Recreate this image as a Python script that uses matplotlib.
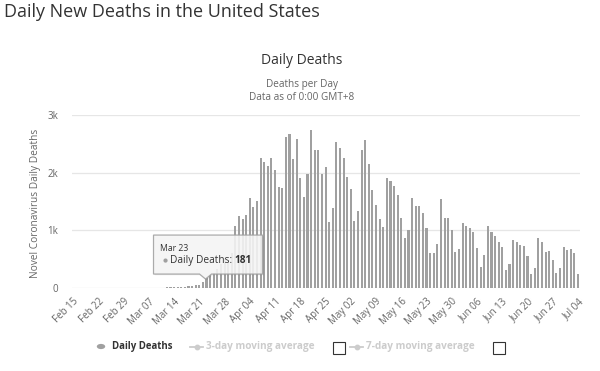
import matplotlib
matplotlib.use('Agg')
import matplotlib.pyplot as plt
import numpy as np
import pandas as pd
from matplotlib.patches import Polygon, Rectangle, Circle
from matplotlib.lines import Line2D
from matplotlib.transforms import IdentityTransform

plt.rcParams['font.family'] = ['Open Sans', 'DejaVu Sans']

# ---------------- data ----------------
start_date = '2020-02-15'
deaths_feb = [0, 0, 0, 0, 0, 0, 0, 0, 0, 0, 0, 0, 0, 0, 1]
deaths_mar = [1, 4, 1, 4, 1, 2, 3, 4, 4, 6, 8, 11, 12, 10, 12, 23, 26, 35, 40, 50,
              60, 110, 181, 230, 260, 330, 410, 520, 450, 600, 1080]
deaths_apr = [1240, 1190, 1260, 1560, 1400, 1510, 2250, 2190, 2120, 2260, 2050, 1750,
              1730, 2610, 2675, 2235, 2580, 1900, 1575, 1975, 2733, 2390, 2390, 1975,
              2100, 1150, 1390, 2525, 2420, 2250]
deaths_may = [1930, 1710, 1160, 1330, 2390, 2565, 2150, 1700, 1440, 1200, 1050, 1905,
              1850, 1770, 1615, 1220, 875, 1000, 1560, 1420, 1420, 1300, 1040, 600,
              610, 770, 1545, 1220, 1220, 1010, 630]
deaths_jun = [670, 1120, 1080, 1040, 970, 700, 360, 570, 1080, 970, 900, 790, 710, 320,
              420, 830, 800, 740, 720, 560, 240, 350, 860, 800, 630, 640, 490, 260, 350, 710]
deaths_jul = [660, 670, 600, 240]
daily_deaths = deaths_feb + deaths_mar + deaths_apr + deaths_may + deaths_jun + deaths_jul

y_ticks = [0, 1000, 2000, 3000]
y_tick_labels = ['0', '1k', '2k', '3k']
tooltip_date = 'Mar 23'

dates = pd.date_range(start_date, periods=len(daily_deaths), freq='D')
date_labels = [d.strftime('%b %d') for d in dates]
x = np.arange(len(daily_deaths))
x_tick_pos = x[::7]
x_tick_labels = date_labels[::7]

# ---------------- figure ----------------
W, H = 600, 371
fig = plt.figure(figsize=(W / 100, H / 100), dpi=100)
fig.patch.set_facecolor('white')


def box(x0, y0, x1, y1):
    return [x0 / W, 1 - y1 / H, (x1 - x0) / W, (y1 - y0) / H]


def fx(px):
    return px / W


def fy(py):
    return 1 - py / H


ax = fig.add_axes(box(72, 115, 580, 288))
ax.bar(x, daily_deaths, width=0.58, color='#a0a0a0', linewidth=0, zorder=2)
ax.set_xlim(-0.3, len(daily_deaths) - 0.45)
ax.set_ylim(0, 3000)
ax.set_yticks(y_ticks)
ax.set_yticklabels(y_tick_labels)
ax.yaxis.grid(True, color='#e6e6e6', linewidth=0.9)
ax.set_axisbelow(True)
for s in ax.spines.values():
    s.set_visible(False)
ax.set_xticks(x_tick_pos)
ax.set_xticklabels(x_tick_labels, rotation=45, ha='right', rotation_mode='anchor')
ax.tick_params(axis='x', length=0, pad=6, labelsize=7, labelcolor='#666666')
ax.tick_params(axis='y', length=0, pad=10, labelsize=7, labelcolor='#666666')

# titles
fig.text(fx(4), fy(12), 'Daily New Deaths in the United States', fontsize=13,
         color='#333333', ha='left', va='center')
fig.text(fx(302), fy(60), 'Daily Deaths', fontsize=10, color='#333333',
         ha='center', va='center')
fig.text(fx(302), fy(84), 'Deaths per Day', fontsize=7.2, color='#666666',
         ha='center', va='center')
fig.text(fx(302), fy(97.5), 'Data as of 0:00 GMT+8', fontsize=7.2, color='#666666',
         ha='center', va='center')
fig.text(fx(35.5), fy(203), 'Novel Coronavirus Daily Deaths', fontsize=7.3,
         color='#666666', rotation=90, ha='center', va='center')

# ---------------- tooltip ----------------
t_idx = date_labels.index(tooltip_date)
t_val = daily_deaths[t_idx]
ax_px, ay_px = ax.transData.transform((t_idx, t_val))  # display px, origin bottom-left
tr = IdentityTransform()
bl, br = ax_px - 53, ax_px + 56
bb, bt = ay_px + 3.5, ay_px + 42.5
pts = [(bl, bt), (br, bt), (br, bb), (ax_px + 5, bb), (ax_px - 1, ay_px - 1.5),
       (ax_px - 7, bb), (bl, bb)]
shadow = Polygon([(p[0] + 1.2, p[1] - 1.2) for p in pts], closed=True, transform=tr,
                 facecolor='#000000', alpha=0.08, edgecolor='none', zorder=9)
fig.patches.append(shadow)
tip = Polygon(pts, closed=True, transform=tr, facecolor='#f7f7f7', alpha=0.88,
              edgecolor='#a0a0a0', linewidth=0.9, zorder=10)
fig.patches.append(tip)
fig.text(bl + 6, bt - 13, tooltip_date, transform=tr, fontsize=6.2, color='#333333',
         ha='left', va='center', zorder=11)
dot = Circle((bl + 12, bt - 25.5), 2.1, transform=tr, facecolor='#a0a0a0',
             edgecolor='none', zorder=11)
fig.patches.append(dot)
t1 = fig.text(bl + 16, bt - 25.5, 'Daily Deaths: ', transform=tr, fontsize=7.3,
              color='#333333', ha='left', va='center', zorder=11)
fig.canvas.draw()
ext = t1.get_window_extent()
fig.text(ext.x1, bt - 25.5, f'{t_val}', transform=tr, fontsize=7.3, color='#333333',
         fontweight='bold', ha='left', va='center', zorder=11)

# ---------------- legend ----------------
ly = 346.5
fig.patches.append(Circle((fx(101), fy(ly)), 4.2 / W, transform=fig.transFigure,
                          facecolor='#a0a0a0', edgecolor='none'))
fig.text(fx(112), fy(ly), 'Daily Deaths', fontsize=6.9, fontweight='bold',
         color='#333333', ha='left', va='center')
for lx0, label in [(190, '3-day moving average'), (350, '7-day moving average')]:
    fig.lines.append(Line2D([fx(lx0), fx(lx0 + 13)], [fy(ly), fy(ly)],
                            transform=fig.transFigure, color='#cccccc', linewidth=1.3))
    fig.lines.append(Line2D([fx(lx0 + 6.5)], [fy(ly)], transform=fig.transFigure,
                            marker='o', markersize=3.2, color='#cccccc', linewidth=0))
    fig.text(fx(lx0 + 16.5), fy(ly), label, fontsize=7.2, fontweight='bold',
             color='#cccccc', ha='left', va='center')
for cx0 in [333, 493]:
    fig.patches.append(Rectangle((fx(cx0), fy(354)), 12 / W, 12 / H,
                                 transform=fig.transFigure, facecolor='white',
                                 edgecolor='#333333', linewidth=0.8))

fig.savefig('out.png', dpi=100, facecolor='white')
